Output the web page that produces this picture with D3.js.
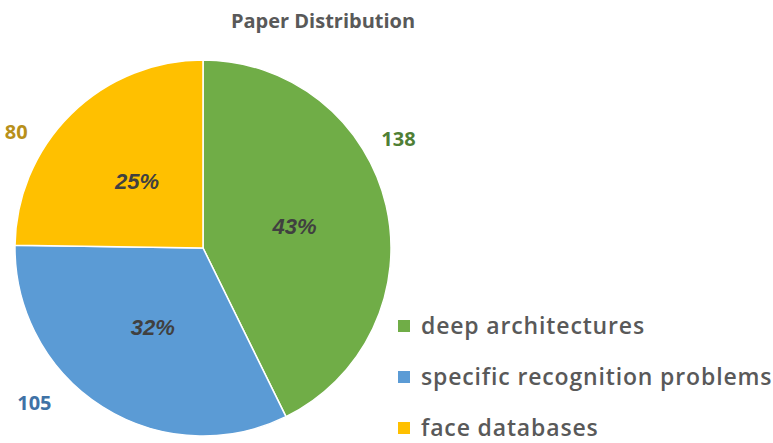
<!DOCTYPE html>
<html><head><meta charset="utf-8">
<script src="https://cdn.jsdelivr.net/npm/d3@7"></script>
<style>body{margin:0;background:#fff}svg{display:block}</style>
</head><body>
<svg id="c" width="773" height="443"></svg>
<script>
const categories = ["deep architectures", "specific recognition problems", "face databases"];
const values = [138, 105, 80];
const percentLabels = ["43%", "32%", "25%"];
const colors = ["#70AD47", "#5B9BD5", "#FFC000"];
const labelColors = ["#4F7F35", "#3F72A6", "#B8901A"];
const labelAngleShift = [-16, 15, -13.5]; // degrees, Excel best-fit offsets
const labelRadiusFactor = [1.19, 1.22, 1.17];

const svg = d3.select("#c");
const W = 773, H = 443;
const cx = 203, cy = 248, r = 188;

svg.append("text").attr("x", 323).attr("y", 28).attr("text-anchor", "middle")
  .attr("font-family", "Open Sans, Lato, sans-serif").attr("font-weight", 700)
  .attr("font-size", 20).attr("fill", "#595959").text("Paper Distribution");

const pie = d3.pie().sort(null).value(d => d);
const arcs = pie(values);
const arc = d3.arc().innerRadius(0).outerRadius(r);
const g = svg.append("g").attr("transform", `translate(${cx},${cy})`);

g.selectAll("path").data(arcs).join("path")
  .attr("d", arc).attr("fill", (d, i) => colors[i])
  .attr("stroke", "#fff").attr("stroke-width", 1.5);

g.selectAll("text.pct").data(arcs).join("text").attr("class", "pct")
  .attr("transform", d => `translate(${arc.centroid(d)})`)
  .attr("text-anchor", "middle").attr("dy", "0.35em")
  .attr("font-family", "Liberation Sans, Arial, sans-serif").attr("font-weight", 700)
  .attr("font-style", "italic").attr("font-size", 22).attr("fill", "#404040")
  .text((d, i) => percentLabels[i]);

g.selectAll("text.val").data(arcs).join("text").attr("class", "val")
  .attr("transform", (d, i) => {
    const a = (d.startAngle + d.endAngle) / 2 + labelAngleShift[i] * Math.PI / 180;
    const lr = r * labelRadiusFactor[i];
    return `translate(${lr * Math.sin(a)},${-lr * Math.cos(a)})`;
  })
  .attr("text-anchor", "middle").attr("dy", "0.35em")
  .attr("font-family", "Open Sans, Lato, sans-serif").attr("font-weight", 700)
  .attr("font-size", 20).attr("fill", (d, i) => labelColors[i])
  .text((d, i) => values[i]);

const leg = svg.append("g");
const ly = d3.scalePoint().domain(categories).range([326, 428]);
const items = leg.selectAll("g").data(categories).join("g")
  .attr("transform", d => `translate(398,${ly(d)})`);
items.append("rect").attr("x", 0).attr("y", -6).attr("width", 12).attr("height", 12)
  .attr("fill", (d, i) => colors[i]);
items.append("text").attr("x", 23).attr("dy", "0.35em")
  .attr("font-family", "Open Sans, Lato, sans-serif").attr("font-weight", 600)
  .attr("font-size", 23).attr("letter-spacing", 0.85).attr("fill", "#595959").text(d => d);
</script>
</body></html>
